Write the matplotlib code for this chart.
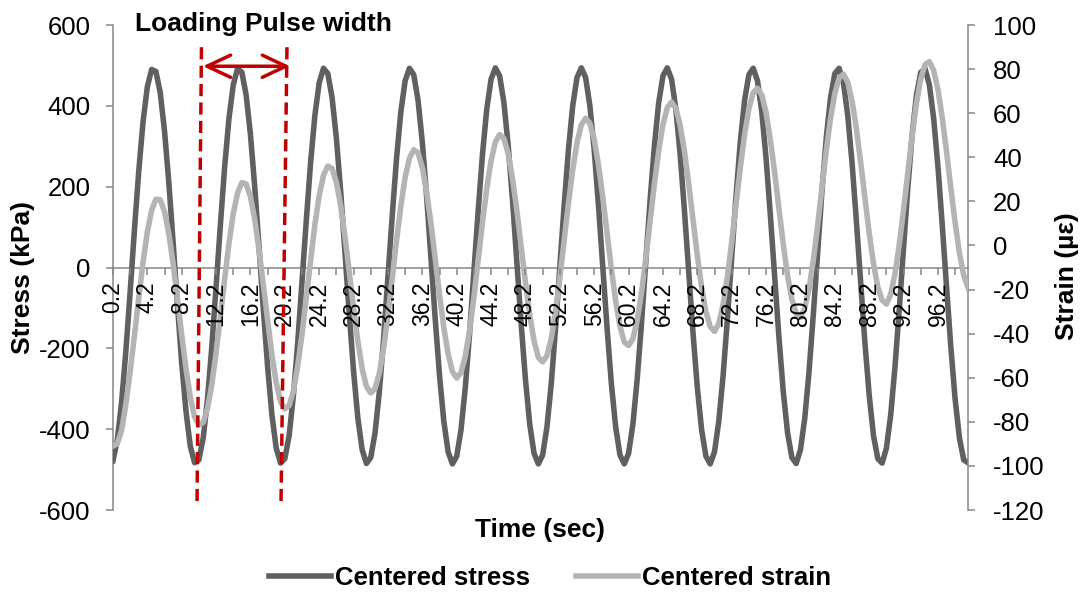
import numpy as np
import matplotlib
matplotlib.use('Agg')
import matplotlib.pyplot as plt
from matplotlib.lines import Line2D

plt.rcParams['font.family'] = ['Liberation Sans', 'DejaVu Sans']
plt.rcParams['axes.unicode_minus'] = False

# sample times in seconds (one reading every 0.5 s)
time = np.round(0.2 + 0.5 * np.arange(200), 1)

# centered stress (kPa)
stress = [
    -478, -428, -335, -208, -61, 93, 238, 360, 447, 490, 485, 433, 338, 211, 63, -91, -236, -356, -442, -483,
    -476, -422, -326, -197, -48, 105, 249, 369, 452, 492, 483, 427, 329, 199, 50, -103, -246, -365, -447, -484,
    -473, -416, -316, -186, -36, 117, 260, 377, 457, 493, 480, 420, 320, 188, 38, -115, -257, -373, -451, -485,
    -470, -409, -307, -174, -24, 129, 270, 385, 462, 493, 477, 414, 310, 176, 26, -127, -267, -380, -456, -486,
    -467, -402, -297, -163, -11, 141, 280, 392, 466, 494, 474, 407, 300, 165, 13, -139, -277, -388, -460, -486,
    -464, -395, -288, -151, 1, 153, 291, 400, 470, 494, 470, 400, 291, 153, 1, -151, -288, -395, -464, -486,
    -460, -388, -277, -139, 13, 165, 300, 407, 474, 494, 466, 392, 280, 141, -11, -163, -297, -402, -467, -486,
    -456, -380, -267, -127, 26, 176, 310, 414, 477, 493, 462, 385, 270, 129, -24, -174, -307, -409, -470, -485,
    -451, -373, -257, -115, 38, 188, 320, 420, 480, 493, 457, 377, 260, 117, -36, -186, -316, -416, -473, -484,
    -447, -365, -246, -103, 50, 199, 329, 427, 483, 492, 452, 369, 249, 105, -48, -197, -326, -422, -476, -483,
]

# centered strain (microstrain)
strain = [
    -91.0, -90.0, -84.0, -72.0, -57.3, -40.9, -23.8, -7.6, 6.1, 15.9, 21.0, 20.7, 15.4, 5.4, -8.2, -24.0, -40.5, -55.9, -68.7, -77.7,
    -81.4, -80.3, -74.0, -63.2, -48.7, -32.2, -15.1, 1.0, 14.4, 23.8, 28.5, 27.9, 22.1, 11.8, -2.1, -18.1, -34.4, -49.7, -62.3, -70.9,
    -74.1, -72.6, -66.1, -54.7, -40.2, -23.5, -6.5, 9.6, 22.6, 31.8, 36.0, 34.9, 28.7, 18.1, 4.1, -12.0, -28.4, -43.5, -55.9, -64.0,
    -66.9, -64.9, -57.9, -46.5, -31.5, -14.9, 2.3, 17.9, 30.9, 39.6, 43.4, 42.0, 35.4, 24.4, 10.1, -5.9, -22.3, -37.3, -49.2, -57.2,
    -60.1, -57.7, -50.2, -38.5, -23.5, -6.5, 10.4, 25.9, 38.5, 46.9, 50.3, 48.5, 41.5, 30.1, 15.8, -0.5, -16.7, -31.5, -43.2, -50.8,
    -52.8, -50.0, -42.2, -30.1, -14.8, 2.2, 19.1, 34.4, 46.7, 54.7, 57.7, 55.4, 48.1, 36.5, 21.8, 5.6, -10.7, -25.3, -36.7, -43.8,
    -45.4, -42.3, -34.0, -21.6, -6.1, 10.8, 27.8, 42.8, 54.9, 62.5, 65.0, 62.3, 54.6, 42.7, 27.9, 11.7, -4.6, -19.0, -30.0, -36.8,
    -39.0, -35.4, -26.8, -14.1, 1.5, 18.6, 35.3, 50.3, 62.0, 69.3, 71.3, 68.2, 60.2, 47.9, 33.0, 16.5, 0.5, -13.7, -24.5, -30.8,
    -32.6, -28.5, -19.7, -6.7, 9.2, 26.2, 43.0, 57.7, 69.0, 75.9, 77.7, 74.1, 65.6, 53.3, 37.9, 21.6, 5.6, -8.3, -18.9, -24.8,
    -26.6, -22.2, -12.9, 0.4, 16.4, 33.4, 50.0, 64.6, 75.6, 82.1, 83.4, 79.4, 70.7, 57.9, 42.5, 26.1, 10.3, -3.5, -13.6, -19.2,
]

x_labels = ['0.2', '4.2', '8.2', '12.2', '16.2', '20.2', '24.2', '28.2', '32.2', '36.2',
            '40.2', '44.2', '48.2', '52.2', '56.2', '60.2', '64.2', '68.2', '72.2', '76.2',
            '80.2', '84.2', '88.2', '92.2', '96.2']

axis_grey = '#868686'
stress_grey = '#606060'
strain_grey = '#B4B4B4'
red = '#C00000'

fig = plt.figure(figsize=(10.85, 5.94), dpi=100)
ax = fig.add_axes([0.1041, 0.1414, 0.7881, 0.8165])
ax2 = ax.twinx()

l1, = ax.plot(time, stress, color=stress_grey, lw=4.0, zorder=3, solid_joinstyle='round',
              label='Centered stress')
l2, = ax2.plot(time, strain, color=strain_grey, lw=4.0, zorder=3, solid_joinstyle='round',
               label='Centered strain')

ax.set_xlim(0.2, 99.7)
ax.set_ylim(-600, 600)
ax2.set_ylim(-120, 100)
ax.set_yticks(range(-600, 601, 200))
ax2.set_yticks(range(-120, 101, 20))

# tick every 2 s, label every 4 s
xt = np.round(np.arange(0.2, 99.0, 2.0), 1)
ax.set_xticks(xt)
ax.set_xticklabels([x_labels[i // 2] if i % 2 == 0 else '' for i in range(len(xt))])

# x axis line sits on stress = 0 (middle of the plot)
ax.spines['bottom'].set_position(('data', 0))
ax.spines['top'].set_visible(False)
ax.spines['right'].set_visible(False)
for s in ['top', 'bottom', 'left']:
    ax2.spines[s].set_visible(False)
for sp in [ax.spines['bottom'], ax.spines['left'], ax2.spines['right']]:
    sp.set_color(axis_grey)
    sp.set_linewidth(1.1)

# time labels are drawn by the twin axes so they stay above both curves
ax.tick_params(axis='x', bottom=False, labelbottom=False)
ax2.xaxis.set_visible(True)
ax2.spines['bottom'].set_position(('axes', 0.5))
ax2.xaxis.set_zorder(4)
ax2.tick_params(axis='x', bottom=True, labelbottom=True, length=5, width=1.1,
                color=axis_grey, pad=5, labelsize=16.5, labelrotation=90)

ax.tick_params(axis='y', length=5, width=1.1, color=axis_grey, pad=11, labelsize=18.5)
ax2.tick_params(axis='y', length=5, width=1.1, color=axis_grey, pad=13, labelsize=18.5)

fig.text(23 / 1085, 1 - 278 / 594, 'Stress (kPa)', rotation=90, ha='center', va='center',
         fontsize=19, weight='bold')
fig.text(1067 / 1085, 1 - 276 / 594, 'Strain (µε)', rotation=90, ha='center', va='center',
         fontsize=19, weight='bold')
fig.text(540 / 1085, 1 - 530 / 594, 'Time (sec)', ha='center', va='center',
         fontsize=19, weight='bold')

# loading pulse markers
fig.text(135 / 1085, 1 - 24 / 594, 'Loading Pulse width', ha='left', va='center',
         fontsize=19, weight='bold')
for xs in [(10.5, 9.98), (20.45, 19.75)]:
    fig.add_artist(Line2D(xs, (545, -592), transform=ax.transData, color=red,
                          lw=2.5, dashes=(3.5, 1.8)))
ax2.annotate('', xy=(20.8, 498), xytext=(10.67, 498), xycoords=ax.transData,
             textcoords=ax.transData, annotation_clip=False,
             arrowprops=dict(arrowstyle='<->,head_length=1.0,head_width=0.47',
                             mutation_scale=17, lw=2.5, color=red,
                             shrinkA=0, shrinkB=0))

fig.legend(handles=[l1, l2], loc='center', bbox_to_anchor=(550 / 1085, 1 - 578 / 594),
           ncol=2, frameon=False, prop=dict(weight='bold', size=18.5),
           handlelength=2.4, handletextpad=0.15, columnspacing=1.8)

fig.savefig('out.png', dpi=100)
